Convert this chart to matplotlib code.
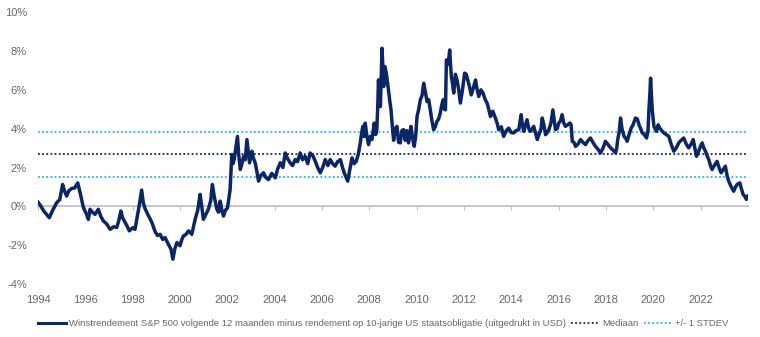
import matplotlib.pyplot as plt
import matplotlib.transforms as mtransforms

# spread: forward earnings yield S&P 500 minus 10y US treasury yield (%)
years = [
    1994.00, 1994.10, 1994.25, 1994.48, 1994.62, 1994.79, 1994.92, 1995.04, 1995.12, 1995.21,
    1995.30, 1995.42, 1995.55, 1995.68, 1995.80, 1995.92, 1996.05, 1996.13, 1996.20, 1996.30,
    1996.41, 1996.55, 1996.65, 1996.76, 1996.90, 1997.05, 1997.20, 1997.33, 1997.42, 1997.50,
    1997.58, 1997.68, 1997.76, 1997.86, 1998.00, 1998.10, 1998.20, 1998.30, 1998.38, 1998.45,
    1998.52, 1998.60, 1998.70, 1998.81, 1998.95, 1999.05, 1999.16, 1999.27, 1999.37, 1999.51,
    1999.62, 1999.70, 1999.78, 1999.87, 2000.00, 2000.08, 2000.15, 2000.25, 2000.36, 2000.50,
    2000.58, 2000.64, 2000.75, 2000.85, 2000.92, 2000.99, 2001.10, 2001.20, 2001.30, 2001.37,
    2001.45, 2001.56, 2001.63, 2001.70, 2001.77, 2001.84, 2001.92, 2002.01, 2002.12, 2002.19,
    2002.24, 2002.29, 2002.36, 2002.43, 2002.48, 2002.55, 2002.62, 2002.69, 2002.76, 2002.83,
    2002.89, 2002.94, 2003.04, 2003.10, 2003.18, 2003.25, 2003.32, 2003.42, 2003.53, 2003.62,
    2003.74, 2003.88, 2004.03, 2004.12, 2004.24, 2004.35, 2004.45, 2004.55, 2004.66, 2004.76,
    2004.87, 2004.97, 2005.08, 2005.18, 2005.29, 2005.40, 2005.50, 2005.62, 2005.72, 2005.82,
    2005.93, 2006.03, 2006.14, 2006.25, 2006.35, 2006.45, 2006.56, 2006.66, 2006.78, 2006.87,
    2006.94, 2007.02, 2007.09, 2007.18, 2007.27, 2007.36, 2007.45, 2007.54, 2007.62, 2007.68,
    2007.73, 2007.78, 2007.83, 2007.90, 2007.97, 2008.04, 2008.11, 2008.17, 2008.21, 2008.27,
    2008.32, 2008.36, 2008.39, 2008.43, 2008.47, 2008.51, 2008.54, 2008.58, 2008.61, 2008.66,
    2008.72, 2008.77, 2008.82, 2008.87, 2008.92, 2008.97, 2009.03, 2009.10, 2009.17, 2009.24,
    2009.31, 2009.38, 2009.45, 2009.52, 2009.59, 2009.66, 2009.72, 2009.76, 2009.83, 2009.90,
    2009.96, 2010.02, 2010.09, 2010.16, 2010.23, 2010.30, 2010.37, 2010.44, 2010.51, 2010.58,
    2010.65, 2010.72, 2010.79, 2010.86, 2010.93, 2011.00, 2011.06, 2011.12, 2011.18, 2011.22,
    2011.26, 2011.33, 2011.40, 2011.44, 2011.47, 2011.52, 2011.57, 2011.64, 2011.71, 2011.78,
    2011.85, 2011.94, 2012.03, 2012.10, 2012.16, 2012.23, 2012.31, 2012.40, 2012.49, 2012.56,
    2012.63, 2012.72, 2012.81, 2012.90, 2012.98, 2013.05, 2013.12, 2013.22, 2013.33, 2013.40,
    2013.47, 2013.58, 2013.68, 2013.79, 2013.89, 2014.00, 2014.10, 2014.20, 2014.32, 2014.42,
    2014.47, 2014.53, 2014.60, 2014.67, 2014.74, 2014.81, 2014.88, 2014.95, 2015.02, 2015.10,
    2015.20, 2015.26, 2015.31, 2015.38, 2015.45, 2015.52, 2015.59, 2015.68, 2015.76, 2015.82,
    2015.87, 2015.94, 2016.01, 2016.08, 2016.15, 2016.22, 2016.29, 2016.38, 2016.48, 2016.53,
    2016.58, 2016.65, 2016.72, 2016.82, 2016.93, 2017.03, 2017.14, 2017.25, 2017.35, 2017.45,
    2017.56, 2017.66, 2017.77, 2017.88, 2017.98, 2018.08, 2018.20, 2018.30, 2018.41, 2018.46,
    2018.50, 2018.56, 2018.62, 2018.68, 2018.77, 2018.84, 2018.90, 2018.98, 2019.07, 2019.15,
    2019.25, 2019.33, 2019.40, 2019.47, 2019.54, 2019.62, 2019.72, 2019.78, 2019.82, 2019.86,
    2019.89, 2019.93, 2019.96, 2020.03, 2020.14, 2020.21, 2020.28, 2020.36, 2020.45, 2020.55,
    2020.66, 2020.76, 2020.87, 2020.97, 2021.08, 2021.18, 2021.29, 2021.40, 2021.50, 2021.60,
    2021.69, 2021.76, 2021.83, 2021.92, 2022.00, 2022.07, 2022.14, 2022.21, 2022.28, 2022.35,
    2022.42, 2022.49, 2022.58, 2022.70, 2022.78, 2022.87, 2022.96, 2023.05, 2023.12, 2023.19,
    2023.30, 2023.40, 2023.48, 2023.55, 2023.66, 2023.73, 2023.80, 2023.88, 2023.94, 2024.00,
]
spread = [
    0.22, 0.05, -0.25, -0.58, -0.20, 0.19, 0.35, 1.13, 0.80, 0.53,
    0.80, 0.92, 0.95, 1.21, 0.60, -0.07, -0.40, -0.67, -0.15, -0.30,
    -0.41, -0.15, -0.50, -0.75, -0.90, -1.18, -1.05, -1.08, -0.70, -0.24,
    -0.60, -0.82, -1.00, -1.26, -1.10, -1.18, -0.50, 0.20, 0.84, 0.19,
    -0.10, -0.31, -0.55, -0.82, -1.30, -1.50, -1.44, -1.70, -1.60, -1.95,
    -2.20, -2.72, -2.20, -1.86, -2.03, -1.70, -1.52, -1.45, -1.26, -1.44,
    -1.00, -0.67, -0.20, 0.62, 0.00, -0.67, -0.40, -0.15, 0.30, 1.13,
    0.50, -0.15, -0.30, 0.27, -0.20, -0.50, -0.20, -0.07, 0.87, 2.67,
    2.20, 2.41, 3.00, 3.60, 2.70, 1.90, 2.20, 2.58, 2.40, 3.44,
    2.80, 2.24, 2.84, 2.50, 2.24, 1.80, 1.30, 1.60, 1.73, 1.50,
    1.38, 1.70, 1.47, 1.90, 2.25, 2.00, 2.75, 2.45, 2.24, 2.10,
    2.41, 2.30, 2.75, 2.40, 2.58, 2.20, 2.75, 2.60, 2.32, 2.00,
    1.73, 2.00, 2.41, 2.10, 2.41, 2.20, 2.07, 2.30, 2.41, 2.00,
    1.73, 1.50, 1.30, 1.90, 2.50, 2.20, 2.32, 2.70, 3.27, 3.80,
    4.12, 3.60, 4.29, 3.60, 3.18, 3.60, 3.44, 3.90, 4.29, 3.70,
    3.95, 5.20, 6.51, 5.60, 5.14, 6.80, 8.14, 7.00, 6.17, 7.20,
    6.86, 6.40, 5.91, 5.40, 4.97, 4.20, 3.40, 4.00, 4.12, 3.30,
    3.27, 3.90, 3.95, 3.40, 3.90, 3.27, 3.80, 4.12, 3.50, 3.09,
    3.60, 4.63, 5.00, 5.49, 5.70, 6.34, 5.90, 5.40, 5.50, 4.97,
    4.40, 3.95, 4.10, 4.37, 4.50, 4.80, 5.20, 5.49, 5.00, 4.97,
    7.54, 7.30, 8.05, 7.20, 6.68, 6.30, 5.83, 6.80, 6.51, 6.00,
    5.32, 6.00, 6.86, 6.80, 6.51, 6.20, 5.74, 6.10, 6.51, 6.00,
    5.66, 6.00, 5.83, 5.50, 5.32, 5.00, 4.63, 4.90, 4.55, 4.30,
    3.95, 4.10, 3.60, 3.90, 4.03, 3.80, 3.78, 3.90, 3.95, 4.72,
    4.20, 3.86, 4.20, 4.46, 4.00, 3.86, 4.00, 4.12, 3.80, 3.44,
    3.80, 4.00, 4.55, 4.20, 3.69, 3.80, 3.95, 4.30, 4.97, 4.40,
    3.95, 4.00, 4.29, 4.40, 4.72, 4.30, 4.12, 4.20, 4.29, 4.20,
    3.35, 3.30, 3.09, 3.20, 3.44, 3.30, 3.18, 3.40, 3.52, 3.30,
    3.09, 2.95, 2.75, 3.00, 3.35, 3.20, 3.01, 2.90, 2.75, 3.00,
    3.44, 3.80, 4.55, 4.00, 3.60, 3.50, 3.35, 3.69, 4.03, 4.20,
    4.55, 4.50, 4.20, 4.00, 3.78, 3.70, 3.52, 3.90, 4.97, 5.80,
    6.60, 5.60, 4.97, 4.12, 3.86, 4.20, 4.03, 3.90, 3.78, 3.70,
    3.60, 3.20, 2.84, 3.00, 3.27, 3.40, 3.52, 3.20, 3.01, 3.20,
    3.44, 3.00, 2.58, 2.84, 3.10, 3.27, 3.00, 2.84, 2.60, 2.41,
    2.10, 1.90, 2.10, 2.32, 2.00, 1.73, 1.90, 2.07, 1.60, 1.30,
    1.00, 0.78, 1.00, 1.13, 1.21, 0.90, 0.62, 0.50, 0.36, 0.53,
]
median = 2.68
std_low, std_high = 1.53, 3.85

year_ticks = list(range(1994, 2024, 2))
pct_ticks = [-4, -2, 0, 2, 4, 6, 8, 10]

navy = "#0b2565"
cyan = "#1fb6f0"
grey_txt = "#666666"

plt.rcParams["font.family"] = ["Liberation Sans", "DejaVu Sans"]

fig = plt.figure(figsize=(7.6, 3.37), dpi=100)
ax = fig.add_axes([0.05, 0.157, 0.934, 0.807])

ax.axhline(std_high, color=cyan, lw=1.3, ls=(0, (1, 1.3)), zorder=1)
ax.axhline(median, color=navy, lw=1.3, ls=(0, (1, 1.3)), zorder=1)
ax.axhline(std_low, color=cyan, lw=1.3, ls=(0, (1, 1.3)), zorder=1)
ax.plot(years, spread, color=navy, lw=2.5, solid_joinstyle="round", zorder=3)

ax.set_xlim(1994, 2024)
ax.set_ylim(-4, 10)

for side in ["top", "right", "left"]:
    ax.spines[side].set_visible(False)
ax.spines["bottom"].set_position(("data", 0))
ax.spines["bottom"].set_color("#c0c0c0")
ax.spines["bottom"].set_linewidth(1.3)
ax.spines["bottom"].set_zorder(2)

ax.set_xticks(year_ticks)
ax.tick_params(axis="x", direction="out", length=3, color="#c0c0c0", labelbottom=False)
ax.set_yticks(pct_ticks)
ax.set_yticklabels([f"{v}%" for v in pct_ticks])
ax.tick_params(axis="y", length=0, pad=8, labelsize=8, labelcolor=grey_txt)

# year labels sit under the plot, not on the zero line
trans = mtransforms.blended_transform_factory(ax.transData, ax.transAxes)
for yr in year_ticks:
    ax.text(yr, -0.04, str(yr), transform=trans, ha="center", va="top",
            fontsize=8, color=grey_txt)

h1, = ax.plot([], [], color=navy, lw=2.2)
h2, = ax.plot([], [], color=navy, lw=1.3, ls=(0, (1, 1.3)))
h3, = ax.plot([], [], color=cyan, lw=1.3, ls=(0, (1, 1.3)))
fig.legend([h1, h2, h3],
           ["Winstrendement S&P 500 volgende 12 maanden minus rendement op 10-jarige US staatsobligatie (uitgedrukt in USD)",
            "Mediaan", "+/- 1 STDEV"],
           loc="center", bbox_to_anchor=(0.504, 0.04), ncol=3, frameon=False,
           fontsize=6.8, labelcolor=grey_txt, handlelength=3.0, handletextpad=0.35,
           columnspacing=0.5)

fig.savefig("out.png", dpi=100)
